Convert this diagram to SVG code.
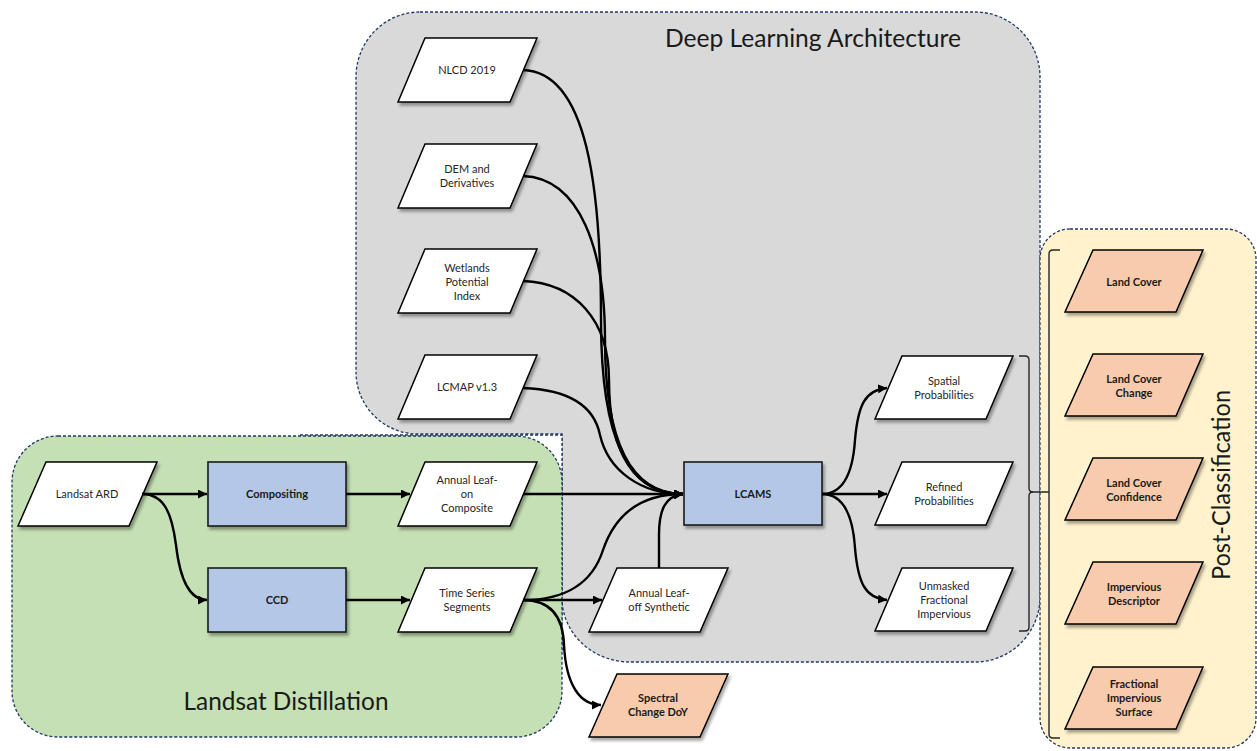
<svg xmlns="http://www.w3.org/2000/svg" width="1257" height="751" viewBox="0 0 1257 751">
  <style>
    .region { stroke: #1F3864; stroke-width: 1.3; stroke-dasharray: 3 2; }
    .node { fill: #FFFFFF; stroke: #000000; stroke-width: 1.5; filter: url(#shadow); }
    .proc { fill: #B4C7E7; stroke: #1a1a1a; stroke-width: 1.6; filter: url(#shadow); }
    .prod { fill: #F8CBAD; stroke: #000000; stroke-width: 1.5; filter: url(#shadow); }
    .lbl { font-family: Lato, "Liberation Sans", sans-serif; font-size: 11px; fill: #262626; text-anchor: middle; }
    .bold { font-weight: 700; fill: #1a1a1a; }
    .title { font-family: Lato, "Liberation Sans", sans-serif; font-size: 25px; fill: #1a1a1a; text-anchor: middle; }
    .edge { fill: none; stroke: #000000; stroke-width: 2.4; marker-end: url(#arrow); }
    .brace { fill: none; stroke: #262626; stroke-width: 1.4; }
  </style>
  <defs>
    <filter id="shadow" x="-20%" y="-20%" width="150%" height="150%">
      <feDropShadow dx="2" dy="3" stdDeviation="1.6" flood-color="#000000" flood-opacity="0.35"/>
    </filter>
    <marker id="arrow" markerUnits="userSpaceOnUse" markerWidth="10" markerHeight="9" refX="9" refY="4.5" orient="auto">
      <path d="M0,0 L9,4.5 L0,9 Z" fill="#000000"/>
    </marker>
  </defs>

  <!-- Deep Learning Architecture region -->
  <g id="region-deep-learning">
    <path class="region" fill="#D9D9D9" d="M420 12 H975 A65 65 0 0 1 1040 77 V597 A65 65 0 0 1 975 662 H630 A68 64 0 0 1 562 598 V434 H418 A62 62 0 0 1 356 372 V77 A64 65 0 0 1 420 12 Z"/>
    <text class="title" x="813" y="47" textLength="296" lengthAdjust="spacingAndGlyphs">Deep Learning Architecture</text>
  </g>

  <!-- Landsat Distillation region -->
  <g id="region-landsat">
    <rect class="region" fill="#FFFFFF" x="300" y="435" width="262" height="215"/>
    <rect class="region" fill="#C5E0B4" x="12" y="436" width="550" height="301" rx="46" ry="46"/>
    <text class="title" x="286" y="710" textLength="205" lengthAdjust="spacingAndGlyphs">Landsat Distillation</text>
  </g>

  <!-- Post-Classification region -->
  <g id="region-post">
    <rect class="region" fill="#FFF2CC" x="1040" y="229" width="216" height="519" rx="30" ry="30"/>
    <text class="title" transform="translate(1230 485) rotate(-90)" x="0" y="0" textLength="190" lengthAdjust="spacingAndGlyphs">Post-Classification</text>
  </g>

  <!-- Auxiliary inputs -->
  <g id="node-nlcd">
    <polygon class="node" points="425,38 537,38 510,102 398,102"/>
    <text class="lbl" x="467" y="74">NLCD 2019</text>
  </g>
  <g id="node-dem">
    <polygon class="node" points="425,144 537,144 510,208 398,208"/>
    <text class="lbl" x="467" y="173">DEM and<tspan x="467" dy="14">Derivatives</tspan></text>
  </g>
  <g id="node-wetlands">
    <polygon class="node" points="425,249 537,249 510,313 398,313"/>
    <text class="lbl" x="467" y="272">Wetlands<tspan x="467" dy="14">Potential</tspan><tspan x="467" dy="14">Index</tspan></text>
  </g>
  <g id="node-lcmap">
    <polygon class="node" points="425,355 537,355 510,419 398,419"/>
    <text class="lbl" x="467" y="391">LCMAP v1.3</text>
  </g>

  <!-- Landsat processing chain -->
  <g id="node-landsat-ard">
    <polygon class="node" points="46,462 157,462 129,526 18,526"/>
    <text class="lbl" x="87" y="498">Landsat ARD</text>
  </g>
  <g id="node-compositing">
    <rect class="proc" x="208" y="462" width="138" height="64"/>
    <text class="lbl bold" x="277" y="498">Compositing</text>
  </g>
  <g id="node-ccd">
    <rect class="proc" x="208" y="568" width="138" height="64"/>
    <text class="lbl bold" x="277" y="604">CCD</text>
  </g>
  <g id="node-leaf-on">
    <polygon class="node" points="425,462 537,462 510,526 398,526"/>
    <text class="lbl" x="467" y="484">Annual Leaf-<tspan x="467" dy="14">on</tspan><tspan x="467" dy="14">Composite</tspan></text>
  </g>
  <g id="node-time-series">
    <polygon class="node" points="425,568 537,568 510,632 398,632"/>
    <text class="lbl" x="467" y="597">Time Series<tspan x="467" dy="14">Segments</tspan></text>
  </g>
  <g id="node-leaf-off">
    <polygon class="node" points="617,568 728,568 700,632 589,632"/>
    <text class="lbl" x="659" y="597">Annual Leaf-<tspan x="659" dy="14">off Synthetic</tspan></text>
  </g>
  <g id="node-spectral-change">
    <polygon class="prod" points="617,674 728,674 700,737 589,737"/>
    <text class="lbl bold" x="658" y="702">Spectral<tspan x="658" dy="14">Change DoY</tspan></text>
  </g>

  <!-- Model -->
  <g id="node-lcams">
    <rect class="proc" x="684" y="462" width="138" height="63"/>
    <text class="lbl bold" x="753" y="498">LCAMS</text>
  </g>

  <!-- Model outputs -->
  <g id="node-spatial-prob">
    <polygon class="node" points="902,356 1013,356 986,419 875,419"/>
    <text class="lbl" x="944" y="385">Spatial<tspan x="944" dy="14">Probabilities</tspan></text>
  </g>
  <g id="node-refined-prob">
    <polygon class="node" points="902,462 1013,462 986,525 875,525"/>
    <text class="lbl" x="944" y="491">Refined<tspan x="944" dy="14">Probabilities</tspan></text>
  </g>
  <g id="node-unmasked">
    <polygon class="node" points="902,568 1013,568 986,631 875,631"/>
    <text class="lbl" x="944" y="590">Unmasked<tspan x="944" dy="14">Fractional</tspan><tspan x="944" dy="14">Impervious</tspan></text>
  </g>

  <!-- Final products -->
  <g id="node-land-cover">
    <polygon class="prod" points="1093,250 1203,250 1176,312 1065,312"/>
    <text class="lbl bold" x="1134" y="286">Land Cover</text>
  </g>
  <g id="node-land-cover-change">
    <polygon class="prod" points="1093,354 1203,354 1176,416 1065,416"/>
    <text class="lbl bold" x="1134" y="383">Land Cover<tspan x="1134" dy="14">Change</tspan></text>
  </g>
  <g id="node-land-cover-confidence">
    <polygon class="prod" points="1093,458 1203,458 1176,520 1065,520"/>
    <text class="lbl bold" x="1134" y="487">Land Cover<tspan x="1134" dy="14">Confidence</tspan></text>
  </g>
  <g id="node-impervious-descriptor">
    <polygon class="prod" points="1093,562 1203,562 1176,624 1065,624"/>
    <text class="lbl bold" x="1134" y="591">Impervious<tspan x="1134" dy="14">Descriptor</tspan></text>
  </g>
  <g id="node-fractional-impervious">
    <polygon class="prod" points="1093,667 1203,667 1176,729 1065,729"/>
    <text class="lbl bold" x="1134" y="688">Fractional<tspan x="1134" dy="14">Impervious</tspan><tspan x="1134" dy="14">Surface</tspan></text>
  </g>

  <!-- Connectors -->
  <g id="connectors">
    <path class="edge" d="M523,70 C588,72 601,190 601,320 C601,440 628,494 683,494"/>
    <path class="edge" d="M523,176 C580,178 605,250 605,340 C605,445 632,494 683,494"/>
    <path class="edge" d="M523,281 C575,283 609,320 609,380 C609,455 636,494 683,494"/>
    <path class="edge" d="M523,388 C575,390 595,410 600,435 C608,470 640,494 683,494"/>
    <path class="edge" d="M142,494 H207"/>
    <path class="edge" d="M142,494 C165,494 172,515 176,545 C180,580 190,600 207,600"/>
    <path class="edge" d="M346,494 H410"/>
    <path class="edge" d="M346,600 H410"/>
    <path class="edge" d="M523,494 H683"/>
    <path class="edge" d="M523,600 H602"/>
    <path class="edge" d="M523,600 C575,600 595,575 603,550 C615,515 640,494 683,494"/>
    <path class="edge" d="M523,600 C550,600 563,615 564,645 C566,685 580,705 601,705"/>
    <path class="edge" d="M659,568 V535 C659,510 665,496 683,494"/>
    <path class="edge" d="M822,494 C845,494 853,470 855,440 C858,405 865,390 887,388"/>
    <path class="edge" d="M822,494 H887"/>
    <path class="edge" d="M822,494 C845,494 853,518 855,548 C858,583 865,598 887,600"/>
    <!-- braces grouping the model outputs into the final products -->
    <path class="brace" d="M1019,356 H1025 Q1029,356 1029,360 V488 Q1029,492 1033,492 H1049"/>
    <path class="brace" d="M1019,631 H1025 Q1029,631 1029,627 V496 Q1029,492 1033,492"/>
    <path class="brace" d="M1060,250 H1053 Q1049,250 1049,254 V734 Q1049,738 1053,738 H1060"/>
  </g>
</svg>
